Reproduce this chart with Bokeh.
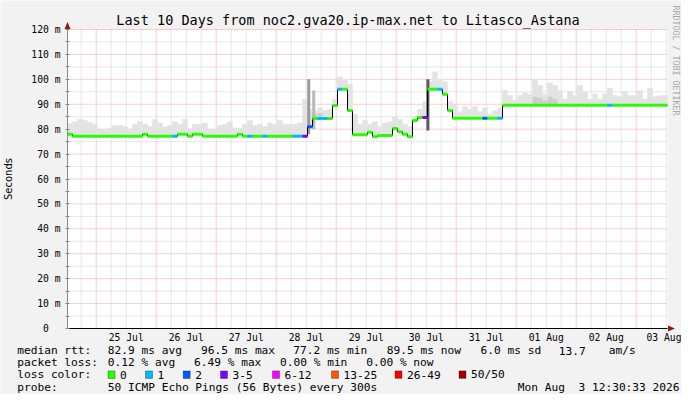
from math import pi
import pandas as pd
from bokeh.plotting import figure
from bokeh.models import (ColumnDataSource, Range1d, FixedTicker,
                          CustomJSTickFormatter, Label, PolyAnnotation)
from bokeh.embed import file_html
from bokeh.resources import INLINE

# ---------------- data ----------------
START = "2026-07-24 12:30:33"
END = "2026-08-03 12:30:33"
BIN = "2h"

median_ms = [
    78.0, 77.2, 77.2, 77.2, 77.2, 77.2, 77.2, 77.2, 77.2, 77.2,
    77.2, 77.2, 77.2, 77.2, 77.2, 78.0, 77.2, 77.2, 77.2, 77.2,
    77.2, 77.2, 78.0, 78.0, 77.2, 78.0, 78.0, 77.2, 77.2, 77.2,
    77.2, 77.2, 77.2, 77.2, 78.0, 77.2, 77.2, 77.2, 77.2, 77.2,
    77.2, 77.2, 77.2, 77.2, 77.2, 77.2, 77.2, 77.2, 81.0, 84.3,
    84.3, 84.3, 84.3, 89.5, 96.0, 96.0, 87.5, 77.8, 77.8, 77.8,
    78.8, 77.0, 77.5, 77.5, 77.5, 80.3, 79.0, 78.0, 77.0, 83.5,
    84.7, 84.7, 96.0, 96.0, 96.0, 94.0, 87.5, 84.4, 84.4, 84.4,
    84.4, 84.4, 84.4, 84.4, 84.4, 84.4, 84.4, 89.6, 89.6, 89.6,
    89.6, 89.6, 89.6, 89.6, 89.6, 89.6, 89.6, 89.6, 89.6, 89.6,
    89.6, 89.6, 89.6, 89.6, 89.6, 89.6, 89.6, 89.6, 89.6, 89.6,
    89.6, 89.6, 89.6, 89.6, 89.6, 89.6, 89.6, 89.6, 89.6, 89.6,
]

smoke_top_ms = [
    82.3, 83.0, 84.0, 83.5, 82.7, 82.0, 80.0, 80.0, 80.5, 81.5,
    81.5, 81.0, 80.0, 82.0, 83.0, 82.0, 81.0, 84.0, 82.5, 81.0,
    81.5, 83.0, 82.0, 84.0, 79.7, 82.0, 82.0, 82.5, 80.0, 80.0,
    81.5, 82.0, 83.0, 80.5, 80.5, 82.0, 83.5, 81.5, 82.0, 81.0,
    82.5, 82.0, 83.5, 82.0, 82.0, 82.0, 82.5, 92.0, 88.0, 87.5,
    88.5, 87.5, 88.0, 92.0, 101.0, 100.0, 98.0, 86.0, 82.0, 83.5,
    82.0, 83.0, 81.0, 82.5, 83.0, 85.0, 84.0, 82.0, 81.0, 85.0,
    88.0, 91.0, 99.0, 103.0, 100.0, 99.0, 91.0, 90.0, 87.0, 89.0,
    88.0, 89.0, 87.0, 88.5, 86.0, 87.5, 88.5, 95.5, 93.5, 91.5,
    93.5, 94.5, 94.0, 99.6, 97.5, 94.0, 98.5, 97.5, 95.5, 92.0,
    95.0, 93.5, 97.5, 95.0, 92.0, 94.0, 92.0, 94.0, 96.5, 93.5,
    93.0, 95.0, 93.5, 93.5, 95.5, 92.0, 96.5, 93.0, 93.5, 93.5,
]

# darker smoke band (bin index, top value)
dark_bins = [49, 50, 93, 94, 95, 96, 97]
dark_top_ms = [86.0, 86.5, 93.0, 92.5, 91.5, 93.0, 92.0]

# bins with packet loss (bin index, loss colour class)
loss_bins = [21, 36, 39, 45, 46, 47, 48, 50, 51, 54, 71, 74, 83, 86, 108]
loss_class = [1, 1, 1, 1, 1, 3, 2, 1, 1, 1, 3, 1, 2, 1, 1]

# short high-latency bursts
spike_time = ["2026-07-28 13:00", "2026-07-28 15:00", "2026-07-30 12:40"]
spike_low_ms = [78.0, 80.0, 79.5]
spike_high_ms = [100.0, 95.5, 100.0]

loss_labels = ["0", "1", "2", "3-5", "6-12", "13-25", "26-49", "50/50"]
day_labels = ["25 Jul", "26 Jul", "27 Jul", "28 Jul", "29 Jul",
              "30 Jul", "31 Jul", "01 Aug", "02 Aug", "03 Aug"]
y_ticks = [0, 10, 20, 30, 40, 50, 60, 70, 80, 90, 100, 110, 120]
y_minor = [5, 15, 25, 35, 45, 55, 65, 75, 85, 95, 105, 115]

title_text = "Last 10 Days from noc2.gva20.ip-max.net to Litasco_Astana"
rtt_stats = ["82.9 ms avg", "96.5 ms max", "77.2 ms min", "89.5 ms now",
             "6.0 ms sd", "13.7", "am/s"]
loss_stats = ["0.12 % avg", "6.49 % max", "0.00 % min", "0.00 % now"]
probe_text = "50 ICMP Echo Pings (56 Bytes) every 300s"
stamp_text = "Mon Aug\u00a0 3 12:30:33 2026"

# ---------------- styles / layout ----------------
LOSS_COLORS = ["#26ff00", "#00b8ff", "#0059ff", "#7e00ff",
               "#ff00ff", "#ff5500", "#ff0000", "#a10000"]
SPIKE_COLORS = ["#9a9a9a", "#b8b8b8", "#5c5c5c"]
MONO = "DejaVu Sans Mono"
BG = "#f2f2f2"
W, H = 681, 394
PL, PR, PT, PB = 67, 667, 29, 328          # plot area in canvas pixels
LEG_FONT = "11.2px"


def ms(t):
    return pd.Timestamp(t).value / 1e6


t0, t1 = ms(START), ms(END)
x_per_px = (t1 - t0) / (PR - PL)
y_per_px = (y_ticks[-1] - y_ticks[0]) / (PB - PT)
x_range = Range1d(t0 - PL * x_per_px, t1 + (W - PR) * x_per_px)
y_range = Range1d(y_ticks[0] - (H - PB) * y_per_px, y_ticks[-1] + PT * y_per_px)

bin_start = pd.date_range(START, periods=len(median_ms), freq=BIN)
bin_w = pd.Timedelta(BIN)
bin_mid = bin_start + bin_w / 2
bin_end = bin_start + bin_w

seg_color = [LOSS_COLORS[0]] * len(median_ms)
for b, c in zip(loss_bins, loss_class):
    seg_color[b] = LOSS_COLORS[c]

src = ColumnDataSource(dict(x0=bin_start, x1=bin_end, xm=bin_mid,
                            med=median_ms, top=smoke_top_ms, col=seg_color))
dark_src = ColumnDataSource(dict(xm=[bin_mid[b] for b in dark_bins],
                                 bot=[median_ms[b] for b in dark_bins],
                                 top=dark_top_ms))
spike_src = ColumnDataSource(dict(x=pd.to_datetime(spike_time), lo=spike_low_ms,
                                  hi=spike_high_ms, col=SPIKE_COLORS))

p = figure(width=W, height=H, x_axis_type="datetime",
           x_range=x_range, y_range=y_range,
           output_backend="svg", toolbar_location=None, title=None,
           min_border=0, background_fill_color=BG,
           border_fill_color=BG, outline_line_color=None)
p.xgrid.visible = False
p.ygrid.visible = False

# plot-area canvas
p.quad(left=[t0], right=[t1], bottom=[y_ticks[0]], top=[y_ticks[-1]],
       fill_color="white", line_color=None)

# grid
noon = pd.date_range("2026-07-25 12:00", periods=10, freq="D")
midnight = pd.date_range("2026-07-25 00:00", periods=10, freq="D")
six_h = [t for t in pd.date_range("2026-07-24 18:00", "2026-08-03 12:00", freq="6h")
         if t.hour != 0]
GRID_MAJOR, GRID_MINOR = "#f0a0a0", "#cfcfcf"
p.segment(x0=six_h, x1=six_h, y0=y_ticks[0], y1=y_ticks[-1],
          line_color=GRID_MINOR, line_dash="1 1", line_width=1)
p.segment(x0=t0, x1=t1, y0=y_minor, y1=y_minor,
          line_color=GRID_MINOR, line_dash="1 1", line_width=1)
p.segment(x0=list(midnight), x1=list(midnight), y0=y_ticks[0], y1=y_ticks[-1],
          line_color=GRID_MAJOR, line_dash="1 1", line_width=1)
p.segment(x0=t0, x1=t1, y0=y_ticks[1:], y1=y_ticks[1:],
          line_color=GRID_MAJOR, line_dash="1 1", line_width=1)

# smoke
p.vbar(x="xm", width=bin_w, bottom="med", top="top", source=src,
       fill_color="#e3e3e3", line_color="#e3e3e3", line_width=0.5)
p.vbar(x="xm", width=bin_w, bottom="bot", top="top", source=dark_src,
       fill_color="#cdcdcd", line_color=None)
p.vbar(x="x", width=pd.Timedelta("72min"), bottom="lo", top="hi",
       source=spike_src, fill_color="col", line_color=None)

# median line
p.step(x=list(bin_start) + [bin_end[-1]], y=median_ms + [median_ms[-1]],
       mode="after", line_color="black", line_width=1)
p.segment(x0="x0", x1="x1", y0="med", y1="med", source=src,
          line_color="col", line_width=3)

# axes, drawn at the plot-area edges
ax = p.xaxis[0]
ax.fixed_location = y_ticks[0]
ax.bounds = (t0, t1)
ax.ticker = FixedTicker(ticks=[ms(t) for t in noon])
ax.formatter = CustomJSTickFormatter(args=dict(labels=day_labels),
                                     code="return labels[index];")
ax.axis_line_color = "black"
ax.major_tick_line_color = None
ax.minor_tick_line_color = None
ax.major_tick_out = 0
ax.major_tick_in = 0
ax.major_label_text_font = MONO
ax.major_label_text_font_size = "9.7px"
ax.major_label_text_color = "black"
ax.major_label_standoff = 3

ay = p.yaxis[0]
ay.fixed_location = t0
ay.bounds = (y_ticks[0], y_ticks[-1])
ay.ticker = FixedTicker(ticks=y_ticks, minor_ticks=y_minor)
ay.formatter = CustomJSTickFormatter(
    code="return tick == 0 ? '0\\u00a0\\u00a0' : tick + ' m';")
ay.axis_line_color = "#8a8a8a"
ay.major_tick_line_color = "#8a8a8a"
ay.minor_tick_line_color = "#8a8a8a"
ay.major_tick_in = 2
ay.major_tick_out = 2
ay.minor_tick_in = 2
ay.minor_tick_out = 2
ay.major_label_text_font = MONO
ay.major_label_text_font_size = "9.7px"
ay.major_label_text_color = "black"
ay.major_label_standoff = 5
ay.axis_label = "Seconds"
ay.axis_label_text_font = "DejaVu Sans"
ay.axis_label_text_font_size = "10px"
ay.axis_label_text_font_style = "normal"
ay.axis_label_text_color = "black"
ay.axis_label_standoff = 14


# ---------------- texts around the plot ----------------
def lab(text, px, py, size=LEG_FONT, align="left", font=MONO,
        color="black", angle=0.0):
    p.add_layout(Label(x=px, y=H - py, x_units="screen", y_units="screen",
                       text=text, text_font=font, text_font_size=size,
                       text_align=align, text_baseline="middle",
                       text_color=color, angle=angle))


def poly(xs, ys, fill, line=None):
    p.add_layout(PolyAnnotation(xs=list(xs), ys=[H - v for v in ys],
                                xs_units="screen", ys_units="screen",
                                fill_color=fill, fill_alpha=1.0,
                                line_color=line, line_width=1))


lab(title_text, 347.5, 19.5, size="13.5px", align="center")
lab("RRDTOOL / TOBI OETIKER", 675.5, 60, size="8.3px", align="center",
    color="#a8a8a8", angle=-pi / 2)

# axis arrows
poly([PL - 3, PL + 3, PL], [PT - 0.5, PT - 0.5, PT - 7.5], "#8b1c1c")
poly([PR + 0.5, PR + 0.5, PR + 7.5], [PB - 3, PB + 3, PB], "#8b1c1c")

# legend rows (vertical centres)
row_y = [350.0, 362.2, 374.4, 386.5]
lab("median rtt:", 16.7, row_y[0])
for t, xp in zip(rtt_stats, [107.3, 200.5, 292.7, 386.3, 480, 558.3, 608.3]):
    lab(t, xp, row_y[0])
lab("packet loss:", 16.7, row_y[1])
for t, xp in zip(loss_stats, [107.3, 193.5, 279.5, 365.7]):
    lab(t, xp, row_y[1])
lab("loss color:", 16.7, row_y[2])
for t, c, xp in zip(loss_labels, LOSS_COLORS,
                    [107.5, 145, 182.7, 220, 272, 331, 394.5, 458.5]):
    poly([xp, xp + 7, xp + 7, xp],
         [row_y[2] - 4, row_y[2] - 4, row_y[2] + 3.5, row_y[2] + 3.5], c, "black")
    lab(t, xp + 12, row_y[2])
lab("probe:", 16.7, row_y[3])
lab(probe_text, 107.3, row_y[3])
lab(stamp_text, 679.0, row_y[3], align="right")

open("out.html", "w").write(file_html(p, INLINE))
